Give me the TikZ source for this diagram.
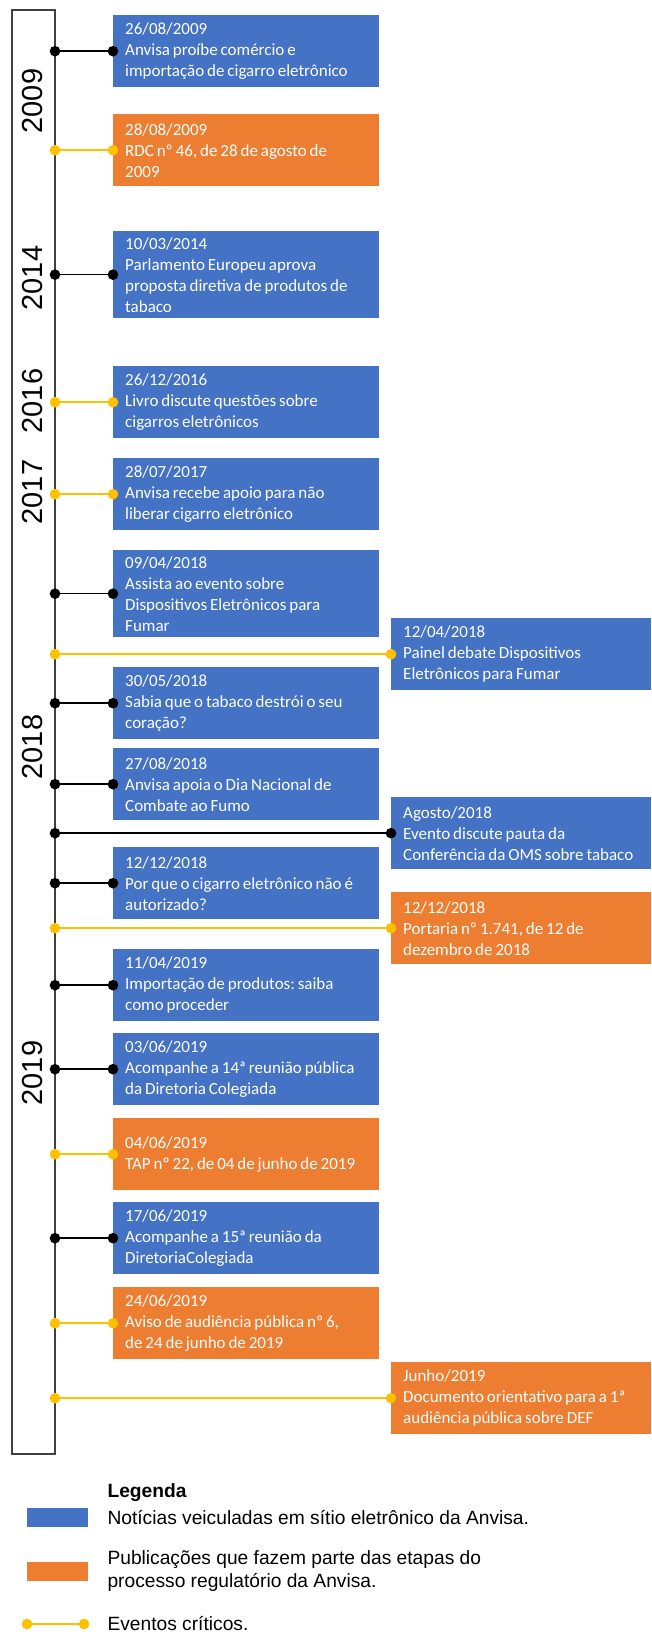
\documentclass[tikz,border=0pt]{standalone}
\usepackage{fontspec}
\newfontfamily\caixafont{Carlito}
\newfontfamily\anofont{Liberation Sans}
\newfontfamily\legfont{Liberation Sans}
\usetikzlibrary{positioning}
\definecolor{azulnot}{HTML}{4472C4}
\definecolor{laranjapub}{HTML}{ED7D31}
\definecolor{amarelocrit}{HTML}{FFC000}
\definecolor{cinzaeixo}{HTML}{404040}
\tikzset{
  evento/.style = {
    rectangle, anchor=north west, align=left, text=white,
    inner xsep=12pt, inner ysep=6pt, minimum height=72pt,
    font=\caixafont\fontsize{17}{21}\selectfont,
    execute at begin node={\frenchspacing\spaceskip=0.17em plus 0.1em minus 0.05em\relax}
  },
  noticia/.style    = {fill=azulnot},
  publicacao/.style = {fill=laranjapub},
  esq/.style = {text width=242pt},   % coluna da esquerda
  dir/.style = {text width=236pt},   % coluna da direita
  liga/.style    = {draw=black, fill=black, line width=1.5pt},
  critico/.style = {draw=amarelocrit, fill=amarelocrit, line width=1.5pt},
  ano/.style = {rotate=90, font=\anofont\fontsize{29}{30}\selectfont},
  leg/.style = {anchor=west, align=left, font=\legfont\fontsize{19.2}{23}\selectfont}
}

\begin{document}
\begin{tikzpicture}[x=1pt,y=-1pt]
\useasboundingbox (0,0) rectangle (651,1634);
% eixo do tempo
\draw[cinzaeixo, line width=1.5pt] (12,10) rectangle (55,1454);
\coordinate (eixo) at (55,0);

% anos
\node[ano] (a2009) at (33,101)  {2009};
\node[ano] (a2014) at (33,278)  {2014};
\node[ano] (a2016) at (33,401)  {2016};
\node[ano] (a2017) at (33,492)  {2017};
\node[ano] (a2018) at (33,747)  {2018};
\node[ano] (a2019) at (33,1073) {2019};

% eventos
\node[evento, noticia, esq] (e1) at (113,15)
  {26/08/2009\\Anvisa proíbe comércio e\\importação de cigarro eletrônico};
\node[evento, publicacao, esq] (e2) at (113,114)
  {28/08/2009\\RDC nº 46, de 28 de agosto de\\2009};
\node[evento, noticia, esq] (e3) at (113,231)
  {10/03/2014\\Parlamento Europeu aprova\\proposta diretiva de produtos de\\tabaco};
\node[evento, noticia, esq] (e4) at (113,366)
  {26/12/2016\\Livro discute questões sobre\\cigarros eletrônicos};
\node[evento, noticia, esq] (e5) at (113,458)
  {28/07/2017\\Anvisa recebe apoio para não\\liberar cigarro eletrônico};
\node[evento, noticia, esq] (e6) at (113,550)
  {09/04/2018\\Assista ao evento sobre\\Dispositivos Eletrônicos para\\Fumar};
\node[evento, noticia, dir] (e7) at (391,618)
  {12/04/2018\\Painel debate Dispositivos\\Eletrônicos para Fumar};
\node[evento, noticia, esq] (e8) at (113,667)
  {30/05/2018\\Sabia que o tabaco destrói o seu\\coração?};
\node[evento, noticia, esq] (e9) at (113,748)
  {27/08/2018\\Anvisa apoia o Dia Nacional de\\Combate ao Fumo};
\node[evento, noticia, dir] (e10) at (391,797)
  {Agosto/2018\\Evento discute pauta da\\Conferência da OMS sobre tabaco};
\node[evento, noticia, esq] (e11) at (113,847)
  {12/12/2018\\Por que o cigarro eletrônico não é\\autorizado?};
\node[evento, publicacao, dir] (e12) at (391,892)
  {12/12/2018\\Portaria nº 1.741, de 12 de\\dezembro de 2018};
\node[evento, noticia, esq] (e13) at (113,949)
  {11/04/2019\\Importação de produtos: saiba\\como proceder};
\node[evento, noticia, esq] (e14) at (113,1033)
  {03/06/2019\\Acompanhe a 14ª reunião pública\\da Diretoria Colegiada};
\node[evento, publicacao, esq] (e15) at (113,1118)
  {04/06/2019\\TAP nº 22, de 04 de junho de 2019};
\node[evento, noticia, esq] (e16) at (113,1202)
  {17/06/2019\\Acompanhe a 15ª reunião da\\DiretoriaColegiada};
\node[evento, publicacao, esq] (e17) at (113,1287)
  {24/06/2019\\Aviso de audiência pública nº 6,\\de 24 de junho de 2019};
\node[evento, publicacao, dir] (e18) at (391,1362)
  {Junho/2019\\Documento orientativo para a 1ª\\audiência pública sobre DEF};

% ligacoes ao eixo
\foreach \n/\s in {e1/liga, e2/critico, e3/liga, e4/critico, e5/critico,
                   e6/liga, e7/critico, e8/liga, e9/liga, e10/liga,
                   e11/liga, e12/critico, e13/liga, e14/liga, e15/critico,
                   e16/liga, e17/critico, e18/critico} {
  \draw[\s] (eixo |- \n.west) -- (\n.west);
  \fill[\s] (eixo |- \n.west) circle (4.5pt) (\n.west) circle (4.5pt);
}

% legenda
\node[leg, font=\legfont\bfseries\fontsize{19.2}{23}\selectfont] (legtit) at (104,1493) {Legenda};
\fill[azulnot] (27,1508) rectangle (88,1527);
\node[leg] (leg1) at (104,1518) {Notícias veiculadas em sítio eletrônico da Anvisa.};
\fill[laranjapub] (27,1562) rectangle (88,1581);
\node[leg] (leg2) at (104,1571) {Publicações que fazem parte das etapas do\\processo regulatório da Anvisa.};
\coordinate (lc1) at (27,1624);
\coordinate (lc2) at (84,1624);
\draw[critico] (lc1) -- (lc2);
\fill[critico] (lc1) circle (4.5pt) (lc2) circle (4.5pt);
\node[leg] (leg3) at (104,1624) {Eventos críticos.};
\end{tikzpicture}
\end{document}
